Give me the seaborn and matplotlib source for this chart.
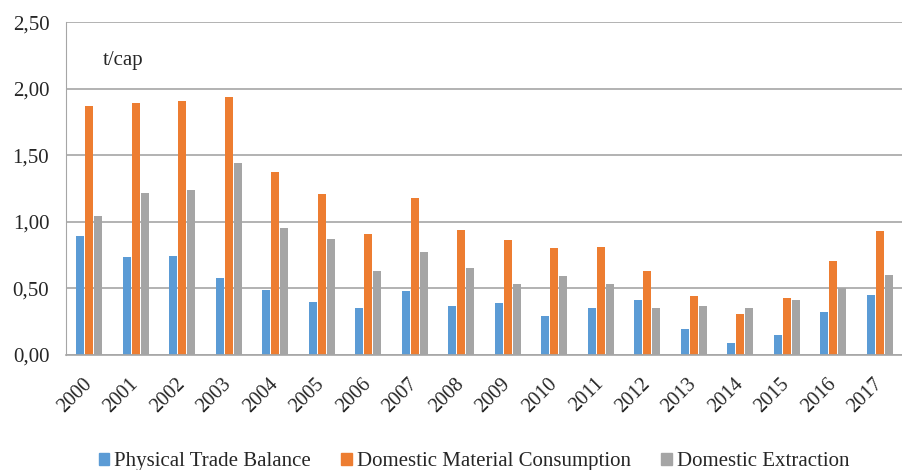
import numpy as np
import pandas as pd
import matplotlib
matplotlib.use("Agg")
import matplotlib.pyplot as plt
import matplotlib.transforms as mtransforms
import seaborn as sns

# data (t/cap)
years = [str(y) for y in range(2000, 2018)]
trade_balance = [0.89, 0.735, 0.745, 0.58, 0.485, 0.40, 0.35, 0.48, 0.37,
                 0.39, 0.29, 0.35, 0.41, 0.195, 0.09, 0.15, 0.32, 0.45]
consumption = [1.87, 1.89, 1.91, 1.94, 1.37, 1.21, 0.91, 1.18, 0.94,
               0.86, 0.80, 0.81, 0.63, 0.44, 0.31, 0.43, 0.705, 0.93]
extraction = [1.04, 1.215, 1.235, 1.44, 0.95, 0.87, 0.63, 0.77, 0.65,
              0.53, 0.59, 0.53, 0.35, 0.37, 0.35, 0.41, 0.50, 0.60]
series = ["Physical Trade Balance", "Domestic Material Consumption", "Domestic Extraction"]
colors = ["#5B9BD5", "#ED7D31", "#A5A5A5"]
yticks = [0.0, 0.5, 1.0, 1.5, 2.0, 2.5]

df = pd.DataFrame({
    "year": years * 3,
    "value": trade_balance + consumption + extraction,
    "series": [series[0]] * 18 + [series[1]] * 18 + [series[2]] * 18,
})

sns.set_style("white")
plt.rcParams["font.family"] = ["Liberation Serif", "DejaVu Serif"]

fig = plt.figure(figsize=(9.03, 4.7), dpi=100)
ax = fig.add_axes([0.073, 0.245, 0.927, 0.708])

sns.barplot(data=df, x="year", y="value", hue="series", palette=colors,
            width=0.58, gap=0.12, ax=ax, legend=False, saturation=1,
            linewidth=0)

ax.set_xlim(-0.5, 17.5)
ax.set_ylim(0, 2.5)
ax.set_yticks(yticks)
ax.set_yticklabels([f"{v:.2f}".replace(".", ",") for v in yticks], fontsize=15)
ax.set_xticks(range(len(years)))
ax.set_xticklabels(years, rotation=45, ha="right", rotation_mode="anchor", fontsize=14.5)
ax.set_xlabel("")
ax.set_ylabel("")

ax.grid(axis="y", color="#a6a6a6", linewidth=1.2)
ax.set_axisbelow(True)
for side in ["top", "right"]:
    ax.spines[side].set_visible(False)
ax.spines["left"].set_color("#a6a6a6")
ax.spines["bottom"].set_color("#a6a6a6")
ax.spines["bottom"].set_linewidth(1.2)
ax.tick_params(axis="y", length=6, color="#a6a6a6", pad=6)
ax.tick_params(axis="x", length=0, pad=14)

# nudge rotated year labels a bit to the left
shift = mtransforms.ScaledTranslation(-5 / 72, 0, fig.dpi_scale_trans)
for lbl in ax.get_xticklabels():
    lbl.set_transform(lbl.get_transform() + shift)

ax.text(0.0685, 0.886, "t/cap", transform=ax.transAxes, fontsize=15,
        ha="center", va="center")

handles = [plt.Rectangle((0, 0), 1, 1, color=c) for c in colors]
fig.legend(handles, series, loc="lower center", bbox_to_anchor=(0.525, -0.043),
           ncol=3, frameon=False, fontsize=15, handlelength=0.5,
           handleheight=0.5, handletextpad=0.25, columnspacing=1.45)

fig.savefig("out.png", dpi=100)
